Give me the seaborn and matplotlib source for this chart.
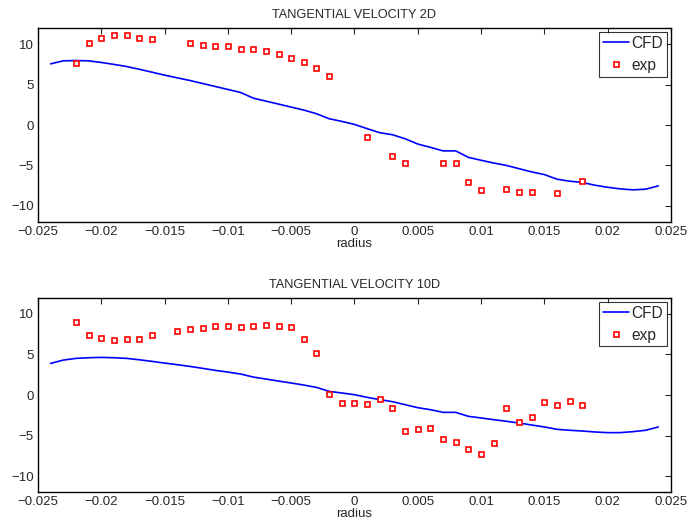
import numpy as np
import pandas as pd
import seaborn as sns
import matplotlib.pyplot as plt

# radius grid for the CFD curves (every mm from -24 to 24)
r_cfd = [-0.024, -0.023, -0.022, -0.021, -0.020, -0.019, -0.018, -0.017, -0.016,
         -0.015, -0.014, -0.013, -0.012, -0.011, -0.010, -0.009, -0.008, -0.007,
         -0.006, -0.005, -0.004, -0.003, -0.002, -0.001, 0.000, 0.001, 0.002,
         0.003, 0.004, 0.005, 0.006, 0.007, 0.008, 0.009, 0.010, 0.011, 0.012,
         0.013, 0.014, 0.015, 0.016, 0.017, 0.018, 0.019, 0.020, 0.021, 0.022,
         0.023, 0.024]

cfd_2d = [7.57, 7.94, 7.98, 7.94, 7.74, 7.5, 7.24, 6.9, 6.54, 6.17, 5.84, 5.51,
          5.14, 4.77, 4.4, 4.03, 3.33, 2.96, 2.59, 2.22, 1.85, 1.4, 0.78, 0.45,
          0.08, -0.45, -0.95, -1.2, -1.7, -2.35, -2.76, -3.2, -3.2, -4.0, -4.36,
          -4.7, -5.0, -5.4, -5.8, -6.13, -6.7, -6.95, -7.1, -7.45, -7.7, -7.9,
          -8.02, -7.94, -7.53]

cfd_10d = [3.9, 4.31, 4.52, 4.6, 4.64, 4.6, 4.52, 4.35, 4.15, 3.94, 3.74, 3.53,
           3.29, 3.04, 2.83, 2.59, 2.22, 1.97, 1.72, 1.48, 1.23, 0.94, 0.45, 0.25,
           0.04, -0.29, -0.57, -0.82, -1.19, -1.56, -1.81, -2.14, -2.14, -2.63,
           -2.83, -3.04, -3.24, -3.45, -3.7, -3.94, -4.23, -4.35, -4.44, -4.56,
           -4.64, -4.64, -4.52, -4.35, -3.94]

# experimental points, 2D station
r_exp_2d = [-0.022, -0.021, -0.020, -0.019, -0.018, -0.017, -0.016, -0.013,
            -0.012, -0.011, -0.010, -0.009, -0.008, -0.007, -0.006, -0.005,
            -0.004, -0.003, -0.002, 0.001, 0.003, 0.004, 0.007, 0.008, 0.009,
            0.010, 0.012, 0.013, 0.014, 0.016, 0.018]
exp_2d = [7.7, 10.16, 10.8, 11.1, 11.1, 10.8, 10.6, 10.1, 9.9, 9.8, 9.8, 9.4,
          9.4, 9.1, 8.8, 8.3, 7.8, 7.0, 6.05, -1.52, -3.79, -4.65, -4.73, -4.73,
          -7.04, -7.98, -7.9, -8.27, -8.27, -8.4, -6.95]

# experimental points, 10D station
r_exp_10d = [-0.022, -0.021, -0.020, -0.019, -0.018, -0.017, -0.016, -0.014,
             -0.013, -0.012, -0.011, -0.010, -0.009, -0.008, -0.007, -0.006,
             -0.005, -0.004, -0.003, -0.002, -0.001, 0.000, 0.001, 0.002, 0.003,
             0.004, 0.005, 0.006, 0.007, 0.008, 0.009, 0.010, 0.011, 0.012,
             0.013, 0.014, 0.015, 0.016, 0.017, 0.018]
exp_10d = [8.95, 7.35, 7.02, 6.78, 6.86, 6.9, 7.35, 7.88, 8.13, 8.3, 8.46, 8.5,
           8.42, 8.46, 8.62, 8.5, 8.38, 6.9, 5.13, 0.08, -1.03, -1.03, -1.07,
           -0.49, -1.64, -4.48, -4.23, -4.07, -5.42, -5.79, -6.65, -7.23, -5.87,
           -1.56, -3.29, -2.75, -0.82, -1.23, -0.78, -1.19]

titles = ['TANGENTIAL VELOCITY 2D', 'TANGENTIAL VELOCITY 10D']

sns.set_style('white')
plt.rcParams['font.family'] = ['Liberation Sans', 'DejaVu Sans']
plt.rcParams['xtick.direction'] = 'in'
plt.rcParams['ytick.direction'] = 'in'

fig = plt.figure(figsize=(6.88, 5.24), dpi=100)
ax1 = fig.add_axes([0.0552, 0.5763, 0.920, 0.3702])
ax2 = fig.add_axes([0.0552, 0.0605, 0.920, 0.3713])

panels = [(ax1, cfd_2d, r_exp_2d, exp_2d, titles[0]),
          (ax2, cfd_10d, r_exp_10d, exp_10d, titles[1])]

for ax, cfd, rx, ex, title in panels:
    df_cfd = pd.DataFrame({'radius': r_cfd, 'v': cfd})
    df_exp = pd.DataFrame({'radius': rx, 'v': ex})
    sns.lineplot(data=df_cfd, x='radius', y='v', ax=ax, color='blue',
                 linewidth=1.2, label='CFD')
    ax.plot(df_exp['radius'], df_exp['v'], linestyle='none', marker='s',
            markersize=3.6, markerfacecolor='white', markeredgecolor='red',
            markeredgewidth=1.2, label='exp')
    ax.set_xlim(-0.025, 0.025)
    ax.set_ylim(-12, 12)
    ax.set_xticks(np.arange(-0.025, 0.0251, 0.005))
    ax.set_xticklabels(['\u22120.025', '\u22120.02', '\u22120.015', '\u22120.01',
                        '\u22120.005', '0', '0.005', '0.01', '0.015', '0.02',
                        '0.025'])
    ax.set_yticks([-10, -5, 0, 5, 10])
    ax.set_yticklabels(['\u221210', '\u22125', '0', '5', '10'])
    ax.tick_params(labelsize=9.5, length=4, width=0.8, top=True, right=True,
                   pad=3)
    for s in ax.spines.values():
        s.set_linewidth(1.0)
        s.set_color('black')
    ax.set_title(title, fontsize=9.2, pad=7)
    ax.set_xlabel('radius', fontsize=9.5, labelpad=0)
    ax.set_ylabel('')
    leg = ax.legend(loc='upper right', fontsize=11.2, frameon=True,
                    fancybox=False, edgecolor='black', borderpad=0.25,
                    handlelength=1.7, handletextpad=0.15, labelspacing=0.45,
                    borderaxespad=0.25)
    leg.get_frame().set_linewidth(0.8)

fig.savefig('out.png', dpi=100)
